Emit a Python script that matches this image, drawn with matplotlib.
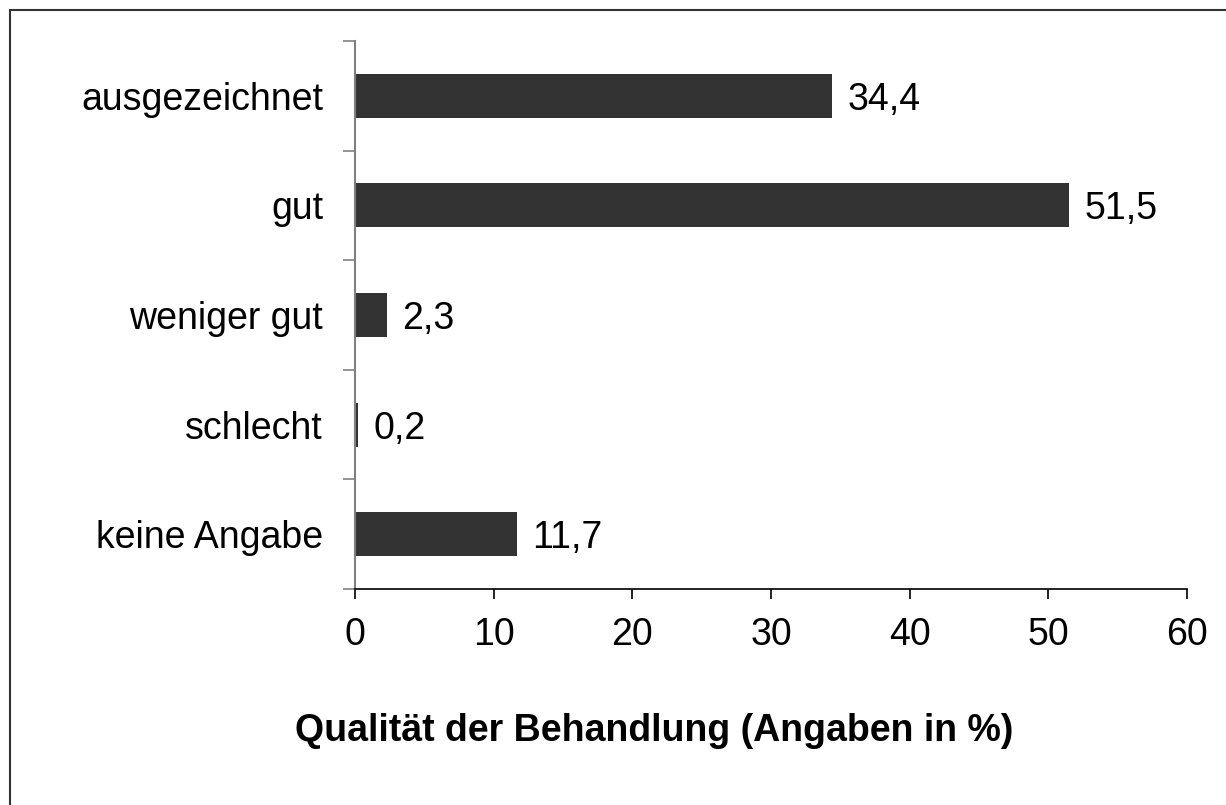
import matplotlib
matplotlib.use("Agg")
import matplotlib.pyplot as plt
from matplotlib.patches import Rectangle
from matplotlib.ticker import FixedLocator, NullFormatter

plt.rcParams['font.family'] = ['Liberation Sans', 'DejaVu Sans']

categories = ["ausgezeichnet", "gut", "weniger gut", "schlecht", "keine Angabe"]
values = [34.4, 51.5, 2.3, 0.2, 11.7]
value_labels = ["34,4", "51,5", "2,3", "0,2", "11,7"]
x_ticks = [0, 10, 20, 30, 40, 50, 60]
x_title = "Qualität der Behandlung (Angaben in %)"

FS = 27

W, H = 1226, 805
fig = plt.figure(figsize=(W / 100, H / 100), dpi=100)
fig.patch.set_facecolor("white")

# figure border (left and top visible, right/bottom cut off)
fig.patches.append(Rectangle((10 / W, -0.1), 1.2, 1 - 10 / H + 0.1, transform=fig.transFigure,
                             fill=False, edgecolor="#333333", linewidth=1.5))

ax = fig.add_axes([355 / W, 1 - 589 / H, (1187 - 355) / W, (589 - 41) / H])
ypos = list(range(len(categories)))[::-1]
ax.barh(ypos, values, height=0.4, color="#333333", edgecolor="none")

for y, v, lab in zip(ypos, values, value_labels):
    ax.annotate(lab, (v, y), xytext=(11, 0), textcoords="offset points",
                ha="left", va="center_baseline", fontsize=FS, color="black")

ax.set_xlim(0, 60)
ax.set_ylim(-0.5, len(categories) - 0.5)
ax.set_xticks(x_ticks)
ax.set_xticklabels([str(t) for t in x_ticks], fontsize=FS)
ax.set_yticks(ypos)
ax.set_yticklabels(categories, fontsize=FS, va="center_baseline")
ax.yaxis.set_minor_locator(FixedLocator([i - 0.5 for i in range(len(categories) + 1)]))
ax.yaxis.set_minor_formatter(NullFormatter())
ax.tick_params(axis="y", which="major", length=0, pad=23)
ax.tick_params(axis="y", which="minor", length=8.5, width=1.2, color="#808080")
ax.tick_params(axis="x", which="major", length=7, width=1.2, color="black", pad=13)

for s in ["top", "right"]:
    ax.spines[s].set_visible(False)
ax.spines["left"].set_color("#808080")
ax.spines["left"].set_linewidth(1.5)
ax.spines["bottom"].set_color("black")
ax.spines["bottom"].set_linewidth(1.2)

fig.text(654 / W, 1 - 727 / H, x_title, ha="center", va="center_baseline",
         fontsize=FS, fontweight="bold")

fig.savefig("out.png", dpi=100)
